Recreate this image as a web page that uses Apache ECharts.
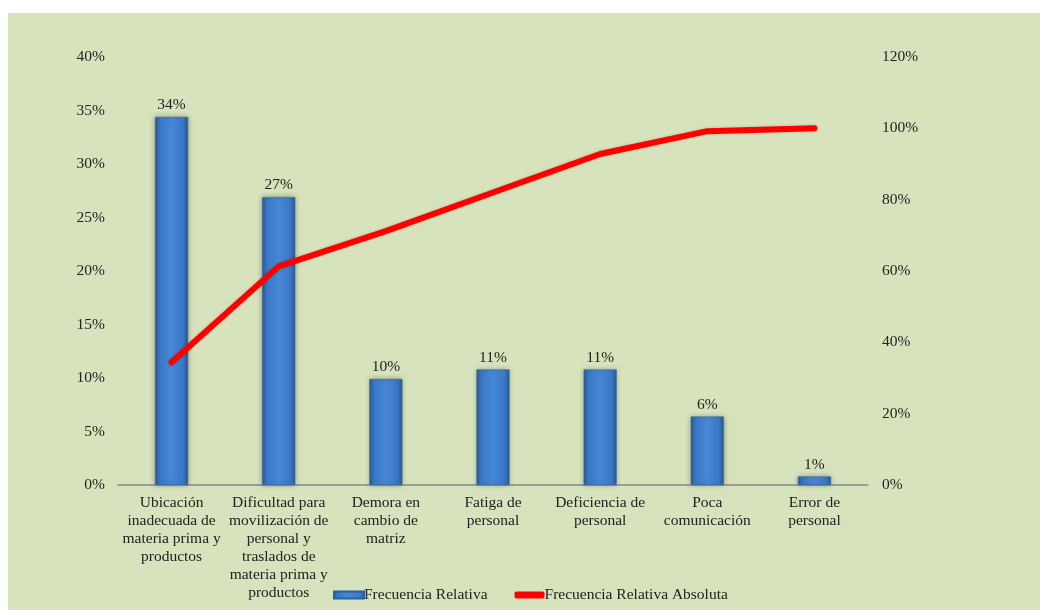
<!DOCTYPE html>
<html><head><meta charset="utf-8">
<script src="https://cdn.jsdelivr.net/npm/echarts@6/dist/echarts.min.js"></script>
<style>html,body{margin:0;padding:0;background:#fff;}#c{position:absolute;left:8px;top:13px;width:1032px;height:597px;background:#d7e3bc;}</style>
</head><body><div id="c"></div>
<script>
var categories = [
  "Ubicación\ninadecuada de\nmateria prima y\nproductos",
  "Dificultad para\nmovilización de\npersonal y\ntraslados de\nmateria prima y\nproductos",
  "Demora en\ncambio de\nmatriz",
  "Fatiga de\npersonal",
  "Deficiencia de\npersonal",
  "Poca\ncomunicación",
  "Error de\npersonal"
];
var frecuenciaRelativa = [34.4, 26.9, 9.9, 10.8, 10.8, 6.4, 0.8];
var frecuenciaAcumulada = [34.4, 61.3, 71.2, 82.0, 92.8, 99.2, 100];
var leftTicks = [0, 5, 10, 15, 20, 25, 30, 35, 40];
var rightTicks = [0, 20, 40, 60, 80, 100, 120];

var font = "'Liberation Serif','Times New Roman',serif";
var fs = 15.5;
var chart = echarts.init(document.getElementById('c'));
var barGrad = new echarts.graphic.LinearGradient(0, 0, 1, 0, [
  {offset: 0, color: '#2a5a98'},
  {offset: 0.15, color: '#3a78c6'},
  {offset: 0.5, color: '#4787d6'},
  {offset: 0.85, color: '#3a78c6'},
  {offset: 1, color: '#2a5a98'}
]);
chart.setOption({
  backgroundColor: '#d7e3bc',
  animation: false,
  textStyle: {fontFamily: font, color: '#222'},
  grid: {left: 110, right: 172, top: 44, bottom: 125},
  legend: {
    bottom: 2, left: 320, itemGap: 27, itemWidth: 30, itemHeight: 7,
    textStyle: {fontFamily: font, fontSize: fs, color: '#222', padding: [0, 0, 0, -5]},
    data: [
      {name: 'Frecuencia Relativa', icon: 'rect', itemStyle: {color: barGrad}},
      {name: 'Frecuencia Relativa Absoluta', icon: 'roundRect', itemStyle: {color: '#ff0000'}}
    ]
  },
  xAxis: {
    type: 'category', data: categories,
    axisLine: {lineStyle: {color: '#888', width: 1.5}},
    axisTick: {show: false},
    axisLabel: {fontFamily: font, fontSize: fs, color: '#222', lineHeight: 18, margin: 9, interval: 0}
  },
  yAxis: [
    {type: 'value', min: leftTicks[0], max: leftTicks[leftTicks.length - 1], interval: 5,
     splitLine: {show: false}, axisLine: {show: false}, axisTick: {show: false},
     axisLabel: {fontFamily: font, fontSize: fs, color: '#222', margin: 13, formatter: '{value}%'}},
    {type: 'value', min: rightTicks[0], max: rightTicks[rightTicks.length - 1], interval: 20,
     splitLine: {show: false}, axisLine: {show: false}, axisTick: {show: false},
     axisLabel: {fontFamily: font, fontSize: fs, color: '#222', margin: 14, formatter: '{value}%'}}
  ],
  series: [
    {name: 'Frecuencia Relativa', type: 'bar', yAxisIndex: 0, data: frecuenciaRelativa, barWidth: 33,
     itemStyle: {color: barGrad, borderColor: '#2d5f9e', borderWidth: 0.5, shadowColor: 'rgba(60,60,40,0.45)', shadowBlur: 5},
     label: {show: true, position: 'top', distance: 4, fontFamily: font, fontSize: fs, color: '#222',
       formatter: function (p) { return Math.round(p.value) + '%'; }}},
    {name: 'Frecuencia Relativa Absoluta', type: 'line', yAxisIndex: 1, data: frecuenciaAcumulada,
     showSymbol: false, symbol: 'none',
     lineStyle: {color: '#ff0000', width: 6, cap: 'round', join: 'round', shadowColor: 'rgba(0,0,0,0.2)', shadowBlur: 3},
     itemStyle: {color: '#ff0000'}}
  ]
});
</script></body></html>
